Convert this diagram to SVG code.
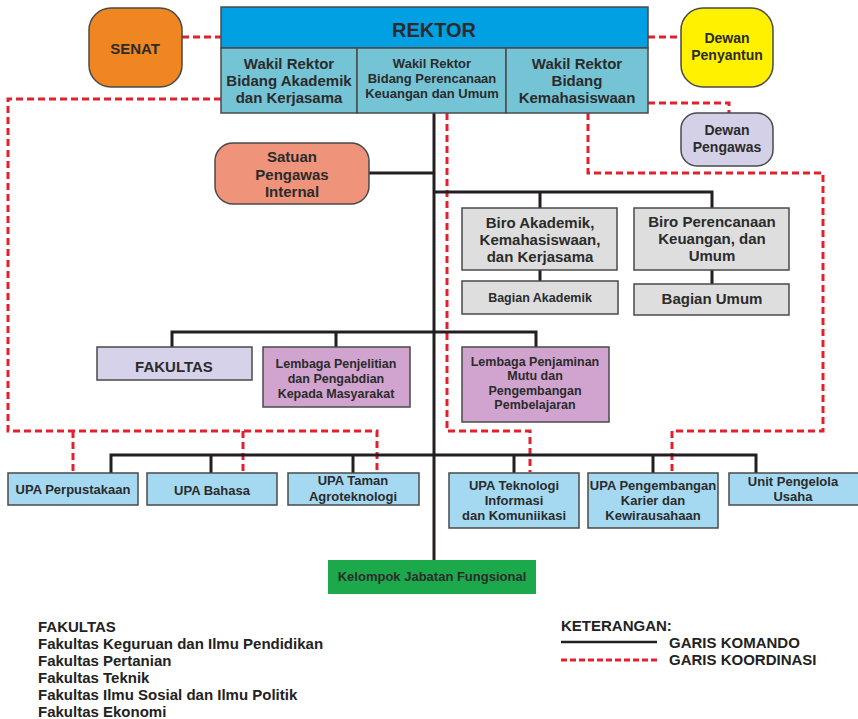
<svg xmlns="http://www.w3.org/2000/svg" width="858" height="719" viewBox="0 0 858 719">
<style>
text{font-family:"Liberation Sans",Arial,sans-serif;font-weight:bold;fill:#2b2b2b;text-anchor:middle}
.box{stroke:#4a4a4a;stroke-width:1.5}
.cmd{stroke:#231f20;stroke-width:3;fill:none}
.crd{stroke:#e5202e;stroke-width:3;fill:none;stroke-dasharray:7 4}
.f12{font-size:12.5px}.f13{font-size:13px}.f14{font-size:14px}.f15{font-size:15px}
.leg{text-anchor:start;font-size:15px;fill:#222}
</style>
<rect width="858" height="719" fill="#fff"/>
<g id="connectors">
<path class="crd" d="M182 37H221M648 37H681"/>
<path class="crd" d="M648 103H729V113"/>
<path class="crd" d="M221 99H8V431H377V472M73 431V472M243 431V472"/>
<path class="crd" d="M447 113V431H530V472"/>
<path class="crd" d="M588 113V173H823V431H672V472"/>
<path class="cmd" d="M434 113V560"/>
<path class="cmd" d="M369 173H434"/>
<path class="cmd" d="M434 192H712V208M540 192V208M540 270V281M712 270V284"/>
<path class="cmd" d="M172 347V332H536V347M336 332V347"/>
<path class="cmd" d="M111 473V455H756V473M211 455V473M353 455V473M514 455V473M653 455V473"/>
</g>
<g id="rektor">
<rect class="box" x="221" y="7" width="427" height="41" fill="#00a0e3"/>
<text x="434" y="37" style="font-size:20px">REKTOR</text>
</g>
<g id="wr1">
<rect class="box" x="221" y="48" width="136" height="65" fill="#74c4d6"/>
<text class="f15" x="289" y="69">Wakil Rektor</text>
<text class="f15" x="289" y="86">Bidang Akademik</text>
<text class="f15" x="289" y="103">dan Kerjasama</text>
</g>
<g id="wr2">
<rect class="box" x="357" y="48" width="149" height="65" fill="#74c4d6"/>
<text class="f13" x="432" y="68">Wakil Rektor</text>
<text class="f13" x="432" y="83">Bidang Perencanaan</text>
<text class="f13" x="432" y="98">Keuangan dan Umum</text>
</g>
<g id="wr3">
<rect class="box" x="506" y="48" width="142" height="65" fill="#74c4d6"/>
<text class="f15" x="577" y="69">Wakil Rektor</text>
<text class="f15" x="577" y="86">Bidang</text>
<text class="f15" x="577" y="103">Kemahasiswaan</text>
</g>
<g id="senat">
<rect class="box" x="89" y="8" width="93" height="79" rx="22" fill="#ef8622"/>
<text class="f15" x="135" y="54">SENAT</text>
</g>
<g id="penyantun">
<rect class="box" x="681" y="8" width="92" height="79" rx="22" fill="#fff100"/>
<text class="f14" x="727" y="43">Dewan</text>
<text class="f14" x="727" y="60">Penyantun</text>
</g>
<g id="pengawas">
<rect class="box" x="681" y="113" width="92" height="53" rx="16" fill="#d4d0e8"/>
<text class="f14" x="727" y="135">Dewan</text>
<text class="f14" x="727" y="152">Pengawas</text>
</g>
<g id="spi">
<rect class="box" x="215" y="143" width="154" height="61" rx="18" fill="#f0937b"/>
<text class="f15" x="292" y="162">Satuan</text>
<text class="f15" x="292" y="180">Pengawas</text>
<text class="f15" x="292" y="197">Internal</text>
</g>
<g id="biro-akademik">
<rect class="box" x="462" y="208" width="155" height="62" fill="#dedede"/>
<text class="f15" x="540" y="228">Biro Akademik,</text>
<text class="f15" x="540" y="245">Kemahasiswaan,</text>
<text class="f15" x="540" y="262">dan Kerjasama</text>
</g>
<g id="biro-perencanaan">
<rect class="box" x="634" y="208" width="155" height="62" fill="#dedede"/>
<text class="f15" x="712" y="227">Biro Perencanaan</text>
<text class="f15" x="712" y="244">Keuangan, dan</text>
<text class="f15" x="712" y="261">Umum</text>
</g>
<g id="bagian-akademik">
<rect class="box" x="462" y="281" width="156" height="33" fill="#dedede"/>
<text class="f12" x="540" y="302">Bagian Akademik</text>
</g>
<g id="bagian-umum">
<rect class="box" x="634" y="284" width="155" height="31" fill="#dedede"/>
<text class="f15" x="712" y="304">Bagian Umum</text>
</g>
<g id="fakultas">
<rect class="box" x="97" y="347" width="155" height="33" fill="#d5d2ea"/>
<text class="f15" x="174" y="372">FAKULTAS</text>
</g>
<g id="lppm">
<rect class="box" x="263" y="347" width="147" height="60" fill="#d0a4cf"/>
<text class="f12" x="336" y="368">Lembaga Penjelitian</text>
<text class="f12" x="336" y="383">dan Pengabdian</text>
<text class="f12" x="336" y="398">Kepada Masyarakat</text>
</g>
<g id="lpmpp">
<rect class="box" x="462" y="347" width="147" height="75" fill="#d0a4cf"/>
<text class="f12" x="535" y="366">Lembaga Penjaminan</text>
<text class="f12" x="535" y="380">Mutu dan</text>
<text class="f12" x="535" y="395">Pengembangan</text>
<text class="f12" x="535" y="409">Pembelajaran</text>
</g>
<g id="upa-perpustakaan">
<rect class="box" x="8" y="473" width="130" height="32" fill="#a5d9f2"/>
<text class="f13" x="73" y="494">UPA Perpustakaan</text>
</g>
<g id="upa-bahasa">
<rect class="box" x="147" y="473" width="130" height="32" fill="#a5d9f2"/>
<text class="f13" x="212" y="495">UPA Bahasa</text>
</g>
<g id="upa-taman">
<rect class="box" x="288" y="473" width="131" height="32" fill="#a5d9f2"/>
<text class="f13" x="353" y="485">UPA Taman</text>
<text class="f13" x="353" y="501">Agroteknologi</text>
</g>
<g id="upa-tik">
<rect class="box" x="449" y="473" width="130" height="55" fill="#a5d9f2"/>
<text class="f13" x="514" y="490">UPA Teknologi</text>
<text class="f13" x="514" y="505">Informasi</text>
<text class="f13" x="514" y="520">dan Komuniikasi</text>
</g>
<g id="upa-karier">
<rect class="box" x="588" y="473" width="130" height="55" fill="#a5d9f2"/>
<text class="f13" x="653" y="490">UPA Pengembangan</text>
<text class="f13" x="653" y="505">Karier dan</text>
<text class="f13" x="653" y="520">Kewirausahaan</text>
</g>
<g id="unit-usaha">
<rect class="box" x="729" y="473" width="130" height="32" fill="#a5d9f2"/>
<text class="f13" x="793" y="486">Unit Pengelola</text>
<text class="f13" x="793" y="501">Usaha</text>
</g>
<g id="kelompok">
<rect x="328" y="560" width="208" height="34" fill="#1ba94c"/>
<text class="f13" x="432" y="581">Kelompok Jabatan Fungsional</text>
</g>
<g id="daftar-fakultas">
<text class="leg" x="38" y="632">FAKULTAS</text>
<text class="leg" x="38" y="649">Fakultas Keguruan dan Ilmu Pendidikan</text>
<text class="leg" x="38" y="666">Fakultas Pertanian</text>
<text class="leg" x="38" y="683">Fakultas Teknik</text>
<text class="leg" x="38" y="700">Fakultas Ilmu Sosial dan Ilmu Politik</text>
<text class="leg" x="38" y="717">Fakultas Ekonomi</text>
</g>
<g id="keterangan">
<text class="leg" x="561" y="631">KETERANGAN:</text>
<line x1="561" y1="642" x2="657" y2="642" stroke="#231f20" stroke-width="2.5"/>
<text class="leg" x="669" y="648">GARIS KOMANDO</text>
<line x1="561" y1="660" x2="657" y2="660" stroke="#e5202e" stroke-width="3" stroke-dasharray="6 3"/>
<text class="leg" x="669" y="665">GARIS KOORDINASI</text>
</g>
</svg>
